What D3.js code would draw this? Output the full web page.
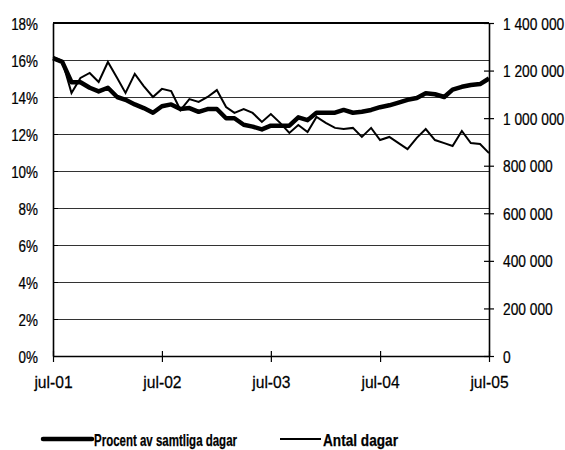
<!DOCTYPE html>
<html>
<head>
<meta charset="utf-8">
<script src="https://cdn.jsdelivr.net/npm/d3@7"></script>
<style>
  html, body { margin: 0; padding: 0; background: #fff; }
  svg { display: block; }
  text { font-family: "Liberation Sans", Arial, sans-serif; fill: #000; stroke: #000; stroke-width: 0.25px; }
</style>
</head>
<body>
<svg id="chart" width="565" height="450"></svg>
<script>
// Monthly observations, July 2001 to July 2005
const startMonth = new Date(2001, 6, 1);
const monthCount = 49;

// Share of all days (%), left axis
const procent = [
  16.1, 15.9, 14.8, 14.8, 14.5, 14.3, 14.5, 14.0, 13.85, 13.6, 13.4, 13.15,
  13.5, 13.6, 13.35, 13.4, 13.2, 13.35, 13.35, 12.85, 12.85, 12.5, 12.4, 12.25,
  12.45, 12.45, 12.45, 12.9, 12.75, 13.15, 13.15, 13.15, 13.3, 13.15, 13.2, 13.3,
  13.45, 13.55, 13.7, 13.85, 13.95, 14.2, 14.15, 14.0, 14.4, 14.55, 14.65, 14.7, 15.0
];

// Number of days, right axis
const antal = [
  1257000, 1240000, 1106000, 1169000, 1190000, 1152000, 1236000, 1169000, 1106000, 1186000, 1135000, 1089000,
  1123000, 1114000, 1034000, 1080000, 1068000, 1089000, 1118000, 1047000, 1022000, 1038000, 1022000, 984000,
  1017000, 980000, 938000, 971000, 942000, 1005000, 980000, 959000, 954000, 959000, 921000, 959000,
  908000, 921000, 895000, 870000, 917000, 954000, 908000, 895000, 883000, 946000, 895000, 891000, 853000
];

const leftTicks = [0, 2, 4, 6, 8, 10, 12, 14, 16, 18];
const rightTicks = [0, 200000, 400000, 600000, 800000, 1000000, 1200000, 1400000];
const xTickLabels = ["jul-01", "jul-02", "jul-03", "jul-04", "jul-05"];
const seriesNames = ["Procent av samtliga dagar", "Antal dagar"];

const dates = d3.range(monthCount).map(i => d3.timeMonth.offset(startMonth, i));
const xTickDates = xTickLabels.map((_, i) => d3.timeYear.offset(startMonth, i));

const svg = d3.select("#chart");
const plot = { left: 53, right: 489, top: 23, bottom: 356 };

const x = d3.scaleTime().domain([dates[0], dates[dates.length - 1]]).range([plot.left, plot.right]);
const yL = d3.scaleLinear().domain([0, 18]).range([plot.bottom, plot.top]);
const yR = d3.scaleLinear().domain([0, 1400000]).range([plot.bottom, plot.top]);

// Squeeze axis text horizontally to get a narrow typeface look
function narrow(sel, k) {
  sel.each(function () {
    const t = d3.select(this);
    const x0 = +t.attr("x") || 0;
    t.attr("x", x0 / k).attr("transform", `scale(${k},1)`);
  });
}

// Horizontal gridlines
svg.append("g")
  .selectAll("line")
  .data(leftTicks.filter(d => d > 0))
  .join("line")
  .attr("x1", plot.left).attr("x2", plot.right)
  .attr("y1", d => yL(d)).attr("y2", d => yL(d))
  .attr("stroke", d => d === 18 ? "#000" : "#333")
  .attr("stroke-width", d => d === 18 ? 1.4 : 1)
  .attr("shape-rendering", "crispEdges");

// Left axis
const fmtPct = d => d + "%";
const gL = svg.append("g").attr("transform", `translate(${plot.left},0)`)
  .call(d3.axisLeft(yL).tickValues(leftTicks).tickFormat(fmtPct).tickSizeInner(-5).tickSizeOuter(0).tickPadding(15));
gL.select(".domain").attr("stroke", "#000").attr("stroke-width", 1.6);
gL.selectAll(".tick line").attr("stroke", "#000");
gL.selectAll("text").attr("font-size", 17).attr("dy", "0.36em").call(narrow, 0.79);

// Right axis
const fmtNum = d => d3.format(",")(d).replace(/,/g, " ");
const gR = svg.append("g").attr("transform", `translate(${plot.right},0)`)
  .call(d3.axisRight(yR).tickValues(rightTicks).tickFormat(fmtNum).tickSizeInner(5).tickSizeOuter(0).tickPadding(9));
gR.select(".domain").attr("stroke", "#000").attr("stroke-width", 1.6);
gR.selectAll(".tick line").attr("stroke", "#000").attr("x1", -5).attr("stroke-width", 1.2);
gR.selectAll("text").attr("font-size", 17).attr("dy", "0.36em").call(narrow, 0.81);

// Bottom axis
const gX = svg.append("g").attr("transform", `translate(0,${plot.bottom})`)
  .call(d3.axisBottom(x).tickValues(xTickDates).tickFormat((d, i) => xTickLabels[i]).tickSizeInner(6).tickSizeOuter(0).tickPadding(14));
gX.select(".domain").attr("stroke", "#000").attr("stroke-width", 1.6);
gX.selectAll(".tick line").attr("stroke", "#000").attr("y1", -5).attr("stroke-width", 1.2);
gX.selectAll("text").attr("font-size", 17).call(narrow, 0.92);

// Series lines
const linePct = d3.line().x((d, i) => x(dates[i])).y(d => yL(d));
const lineAntal = d3.line().x((d, i) => x(dates[i])).y(d => yR(d));

svg.append("path").datum(antal)
  .attr("d", lineAntal)
  .attr("fill", "none").attr("stroke", "#000").attr("stroke-width", 2)
  .attr("stroke-linejoin", "miter");

svg.append("path").datum(procent)
  .attr("d", linePct)
  .attr("fill", "none").attr("stroke", "#000").attr("stroke-width", 4.5)
  .attr("stroke-linejoin", "round");

// Legend
const legend = svg.append("g").attr("transform", "translate(0,439)");
const items = [
  { name: seriesNames[0], x1: 43, x2: 92, w: 4.5, len: 143 },
  { name: seriesNames[1], x1: 280, x2: 321, w: 2, len: 75 }
];
items.forEach(it => {
  legend.append("line").attr("x1", it.x1).attr("x2", it.x2).attr("y1", 0).attr("y2", 0)
    .attr("stroke", "#000").attr("stroke-width", it.w).attr("stroke-linecap", it.w > 3 ? "round" : "butt");
  legend.append("text").attr("x", it.x2 + 2).attr("y", 0).attr("dy", "0.4em")
    .attr("font-size", 17).attr("font-weight", "bold")
    .attr("textLength", it.len).attr("lengthAdjust", "spacingAndGlyphs")
    .text(it.name);
});
</script>
</body>
</html>
